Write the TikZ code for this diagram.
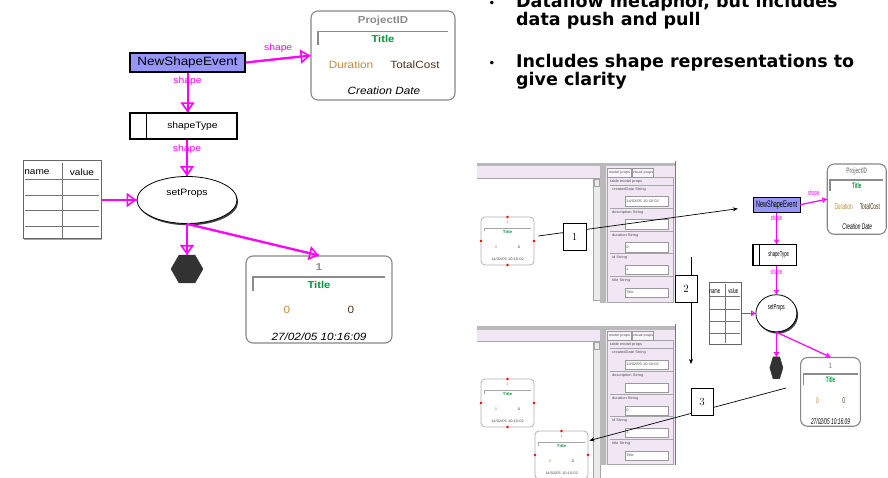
\documentclass[tikz,border=0pt]{standalone}
\usepackage{fontspec}
\newfontfamily\diagfont[FakeStretch=1.12]{Liberation Sans}
\newfontfamily\slidefont{DejaVu Sans}
\usetikzlibrary{arrows.meta,shapes.geometric,shadows,calc}

\definecolor{flowpink}{RGB}{255,0,255}
\definecolor{evtfill}{RGB}{150,150,250}
\definecolor{titlegreen}{RGB}{0,150,60}
\definecolor{durgold}{RGB}{190,140,60}
\definecolor{costbrown}{RGB}{80,50,25}
\definecolor{idgrey}{RGB}{140,140,140}
\definecolor{cardgrey}{RGB}{135,135,135}
\definecolor{hexfill}{RGB}{50,50,50}
\definecolor{lav}{RGB}{240,230,244}
\definecolor{chrome}{RGB}{185,185,185}

\newcommand\dfs[1]{\fontsize{#1}{#1}\selectfont}

\tikzset{
  dtxt/.style={inner sep=0pt, font={\diagfont\dfs{#1}}},
  dbold/.style={inner sep=0pt, font={\diagfont\bfseries\dfs{#1}}},
  dital/.style={inner sep=0pt, font={\diagfont\itshape\dfs{#1}}},
  flowline/.style={draw=flowpink, line width=2pt},
  flow/.style={flowline, postaction={draw=flowpink, line width=2pt,
      -{Triangle[open, length=10pt, width=14pt, line width=1.6pt]}}},
  flowlbl/.style={dtxt=9.2, text=flowpink},
  evtbox/.style={draw=black, line width=1.8pt, fill=evtfill, minimum width=115pt,
      minimum height=19pt, inner sep=0pt, font={\diagfont\dfs{12}}},
  cardbox/.style={draw=cardgrey, line width=1.1pt, rounded corners=7pt, fill=white, inner sep=0pt},
  stbox/.style={draw=black, line width=1.2pt, fill=white, minimum width=107pt,
      minimum height=26pt, inner sep=0pt},
  procell/.style={ellipse, draw=black, line width=0.8pt, fill=white, minimum width=100pt,
      minimum height=47pt, inner sep=0pt,
      drop shadow={shadow xshift=1.2pt, shadow yshift=-1.8pt, fill=black!75, opacity=1}},
  tblbox/.style={draw=black!60, line width=1pt, fill=white, minimum width=78pt,
      minimum height=78pt, inner sep=0pt,
      drop shadow={shadow xshift=1.3pt, shadow yshift=-1.3pt, fill=black!35, opacity=1}},
  tblrule/.style={draw=black!55, line width=0.9pt},
  hexcell/.style={regular polygon, regular polygon sides=6, minimum size=32pt,
      inner sep=0pt, fill=hexfill, draw=hexfill},
  bracket/.style={draw=black!45, line width=1.4pt},
  % application window parts
  chromeline/.style={draw=black!35, line width=0.5pt},
  tinytxt/.style={inner sep=0pt, font={\diagfont\dfs{3.6}}, text=black!70},
  tinybold/.style={inner sep=0pt, font={\diagfont\bfseries\dfs{4}}},
  tabcell/.style={draw=black!40, line width=0.4pt, fill=white!60!lav, minimum width=24pt,
      minimum height=8.5pt, inner sep=0pt, font={\diagfont\dfs{3.4}}, text=black!70},
  fieldbox/.style={draw=black!40, line width=0.5pt, fill=white, text width=41pt,
      minimum height=9.5pt, inner sep=1pt, align=left, font={\diagfont\dfs{3.6}}, text=black!70},
  cshape/.style={draw=black!30, line width=0.8pt, rounded corners=4pt, fill=white,
      minimum width=53pt, minimum height=48pt, inner sep=0pt},
  cbracket/.style={draw=black!35, line width=0.8pt},
  % numbered call-outs
  callout/.style={draw=black, line width=0.7pt},
  calltip/.style={callout, -{Stealth[length=5pt, width=4pt]}},
  numbox/.style={draw=black, line width=0.7pt, fill=white, minimum width=22pt,
      minimum height=27pt, inner sep=0pt, font=\dfs{11}},
  % slide text
  slide/.style={inner sep=0pt, font={\slidefont\bfseries\dfs{17.5}}},
  bulletmark/.style={inner sep=0pt, font={\slidefont\dfs{12}}},
}

% The event flow: event -> type -> property setter -> outputs
\newcommand\flowdiagram{%
  \node[evtbox] (nse) at (187.5,62.5) {NewShapeEvent};
  % ProjectID card
  \node[cardbox, minimum width=144pt, minimum height=89pt] (pid) at (383,55.5) {};
  \node[dbold=10.2, text=idgrey] (pidname) at (383,21) {ProjectID};
  \draw[bracket] (318,45) -- (318,31.5) -- (448,31.5);
  \node[dbold=10, text=titlegreen] (pidtitle) at (383,39) {Title};
  \node[dtxt=10.5, text=durgold] (piddur) at (351,65) {Duration};
  \node[dtxt=10.5, text=costbrown] (pidcost) at (415,65) {TotalCost};
  \node[dital=10.5] (piddate) at (384,90.5) {Creation Date};
  % shapeType
  \node[stbox] (stype) at (183.5,126) {};
  \draw[line width=1.2pt] ($(stype.north west)+(17,0)$) -- ($(stype.south west)+(17,0)$);
  \node[dtxt=9.2] (stypetxt) at (192.5,126) {shapeType};
  % setProps
  \node[procell] (props) at (187,200) {};
  \node[dtxt=9.3] (propstxt) at (187,193) {setProps};
  % name/value table
  \node[tblbox] (tbl) at (62,200) {};
  \draw[tblrule] (62,163) -- (62,238);
  \foreach \ry in {179,195,210,226} {\draw[tblrule] (25,\ry) -- (99,\ry);}
  \node[dtxt=9] (tname) at (37,172) {name};
  \node[dtxt=9] (tval) at (82,172) {value};
  % terminator
  \node[hexcell] (hex) at (187,269) {};
  % output card
  \node[cardbox, minimum width=146pt, minimum height=87pt] (out) at (319,299.5) {};
  \node[dbold=10, text=idgrey] (outid) at (319,267) {1};
  \draw[bracket] (253,291) -- (253,277) -- (385,277);
  \node[dbold=10, text=titlegreen] (outtitle) at (319,284.5) {Title};
  \node[dtxt=10.5, text=durgold] (outdur) at (287,310) {0};
  \node[dtxt=10.5, text=costbrown] (outcost) at (351,310) {0};
  \node[dital=10.5] (outdate) at (319,337) {27/02/05 10:16:09};
  % flows
  \draw[flow] (nse.east) -- node[flowlbl, above=6pt] (lbla) {shape} (pid.west);
  \draw[flow] (nse.south) -- node[flowlbl, pos=0.2] (lblb) {shape} (nse.south |- stype.north);
  \draw[flow] (props.north |- stype.south) -- node[flowlbl, pos=0.25] (lblc) {shape} (props.north);
  \draw[flow] (tbl.east) -- (props.west);
  \draw[flow] (props.south) -- (hex.north);
  \draw[flow] (props.south) -- (out.north);
}

% one labelled property field of the side panel
\newcommand\propfield[4]{% name, label, label y, value
  \draw[chromeline] (610,#3-5) -- (673,#3-5);
  \node[tinytxt, anchor=west] (#1lab) at (612,#3) {#2};
  \node[fieldbox, anchor=north west] (#1val) at (625,#3+6.5) {#4};
}

% editor window: canvas chrome, scrollbar and property panel
\newcommand\appwindow[2]{% panel bottom, scrollbar bottom
  \fill[chrome] (477,163) rectangle (676,166.5);
  \fill[lav] (477,166.5) rectangle (600,178);
  \draw[chromeline] (477,178) -- (593,178);
  \fill[black!8] (593,178) rectangle (600,#2);
  \draw[chromeline] (593,178) rectangle (600,#2);
  \draw[chromeline] (593.8,179.5) rectangle (599.2,186);
  \fill[chrome] (600,166.5) rectangle (606,#1);
  \fill[lav] (606,166.5) rectangle (675,#1);
  \draw[chromeline] (607,177) rectangle (673.5,#1-1);
  \node[tabcell] (tabmodel) at (619.5,172.5) {model props};
  \node[tabcell, minimum width=21pt] (tabvisual) at (643,172.5) {visual props};
  \node[tinytxt, anchor=west] (tblhead) at (610,181.5) {table model props};
  \propfield{created}{createdDate String}{190}{14/02/05 10:10:02}
  \propfield{descr}{description String}{213}{}
  \propfield{dur}{duration String}{236}{0}
  \propfield{id}{id String}{258}{1}
  \propfield{title}{title String}{281}{Title}
  \draw[red!75, line width=0.6pt] (675,161) -- (675,#1);
}

% a project shape on the editor canvas, with its selection handles
\newcommand\canvasshape[3]{% name, left, top
  \begin{scope}[shift={(#2,#3)}, name prefix=#1-]
    \node[cshape] (box) at (26.5,24) {};
    \node[tinytxt, text=idgrey] (id) at (26.5,5.5) {1};
    \draw[cbracket] (3,14.5) -- (3,11) -- (50,11);
    \node[tinybold, text=titlegreen] (title) at (26.5,15.5) {Title};
    \node[tinytxt, text=durgold] (dur) at (15,30) {0};
    \node[tinytxt, text=costbrown] (cost) at (38,30) {0};
    \node[tinytxt] (date) at (26.5,42) {14/02/05 10:10:02};
    \fill[red] (26.5,0) circle (1.3pt) (0,24) circle (1.3pt)
               (53,24) circle (1.3pt) (26.5,48) circle (1.3pt);
  \end{scope}}

\begin{document}
\begin{tikzpicture}[x=1pt, y=-1pt]
  \useasboundingbox (0,0) rectangle (888,478);
  \fill[white] (0,0) rectangle (888,478);

  % editor screenshots
  \begin{scope}[name prefix=winA-]
    \appwindow{303}{300}
  \end{scope}
  \begin{scope}[shift={(0,163)}, name prefix=winB-]
    \appwindow{302}{315}
  \end{scope}
  \canvasshape{A1}{481}{217}
  \canvasshape{B1}{481}{379}
  \canvasshape{B2}{535}{431}

  % main flow diagram
  \flowdiagram

  % reduced copy of the flow diagram
  \begin{scope}[shift={(699.7,155.3)}, xscale=0.41, yscale=0.79, transform shape,
      name prefix=mini-,
      flowline/.style={draw=flowpink, line width=0.9pt},
      flow/.style={flowline, postaction={draw=flowpink, line width=0.9pt,
          -{Triangle[open, length=4.5pt, width=5.5pt, line width=0.8pt]}}},
      evtbox/.append style={line width=1pt}]
    \flowdiagram
  \end{scope}

  % numbered call-outs
  \draw[calltip] (A1-box.east) ++(4,-5) -- ($(mini-nse.west)+(-15,4)$);
  \coordinate (c2top) at (691,257);
  \coordinate (c2bot) at (691,364);
  \draw[calltip] (c2top) -- (c2bot);
  \coordinate (c3from) at (786,388);
  \draw[calltip] (c3from) -- ($(B2-box.north east)+(1,10)$);
  \node[numbox, minimum width=23pt] (n1) at (574.5,236.5) {1};
  \node[numbox] (n2) at (686,288.5) {2};
  \node[numbox] (n3) at (702,401.5) {3};

  % bullet points
  \node[bulletmark, anchor=base] (dot1) at (492,8) {•};
  \node[slide, anchor=base west] (pt1a) at (516,8) {Dataflow metaphor, but includes};
  \node[slide, anchor=base west] (pt1b) at (516,26) {data push and pull};
  \node[bulletmark, anchor=base] (dot2) at (492,68) {•};
  \node[slide, anchor=base west] (pt2a) at (516,68) {Includes shape representations to};
  \node[slide, anchor=base west] (pt2b) at (516,86) {give clarity};
\end{tikzpicture}
\end{document}
